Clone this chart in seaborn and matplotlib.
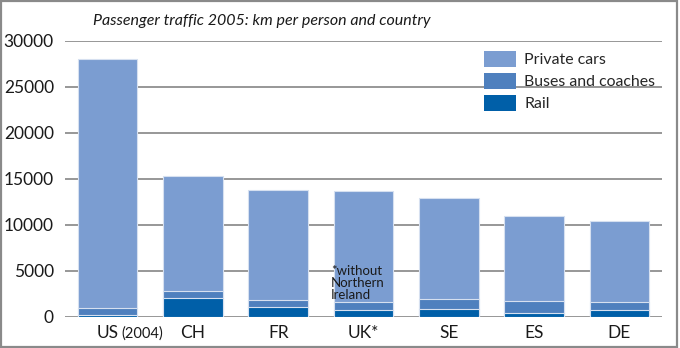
import matplotlib
matplotlib.use("Agg")
import matplotlib.pyplot as plt
import seaborn as sns
import pandas as pd
from matplotlib.patches import Patch, Rectangle

categories = ["US", "CH", "FR", "UK*", "SE", "ES", "DE"]
rail = [200, 2070, 1090, 730, 840, 440, 730]
buses = [700, 760, 725, 900, 1050, 1300, 900]
cars = [27100, 12470, 11985, 12020, 11060, 9210, 8770]
yticks = [0, 5000, 10000, 15000, 20000, 25000, 30000]

c_cars = "#7B9DD1"
c_bus = "#4F80BE"
c_rail = "#005FA8"
edge = "#D6E0F0"

df = pd.DataFrame({"country": categories, "rail": rail, "buses": buses, "cars": cars})
df["bus_top"] = df["rail"] + df["buses"]
df["total"] = df["bus_top"] + df["cars"]

sns.set_theme(style="white")
plt.rcParams["font.family"] = ["Lato", "DejaVu Sans"]

fig = plt.figure(figsize=(6.8, 3.48), dpi=100)
ax = fig.add_axes([65 / 680, 1 - 316.7 / 348, (662 - 65) / 680, (316.7 - 40.7) / 348])

for col, color in [("total", c_cars), ("bus_top", c_bus), ("rail", c_rail)]:
    sns.barplot(data=df, x="country", y=col, color=color, saturation=1, width=0.70,
                edgecolor=edge, linewidth=0.8, ax=ax, zorder=3)

ax.set_ylim(0, 30000)
ax.set_xlim(-0.5, len(categories) - 0.5)
ax.set_yticks(yticks)
ax.set_yticklabels([str(v) for v in yticks])
for v in yticks:
    ax.axhline(v, color="#7a7a7a", lw=1.1, zorder=1)
ax.set_xlabel("")
ax.set_ylabel("")
for s in ax.spines.values():
    s.set_visible(False)
ax.tick_params(axis="y", length=0, pad=8, labelsize=12.5, colors="#1a1a1a")
ax.tick_params(axis="x", length=0, pad=6, labelsize=12.5, colors="#1a1a1a")
ax.set_xticks(range(len(categories)))
ax.set_xticklabels(categories)

# "(2004)" suffix after US
ax.annotate("(2004)", xy=(0, 0), xycoords=("data", "axes fraction"), xytext=(10, -7),
            textcoords="offset points", ha="left", va="top", fontsize=10.5, color="#1a1a1a")

# UK note
ax.text(2.62, 5600, "*without\nNorthern\nIreland", ha="left", va="top", fontsize=9.5,
        color="#1a1a1a", linespacing=1.0, zorder=5)

handles = [Patch(facecolor=c_cars, edgecolor="none", label="Private cars"),
           Patch(facecolor=c_bus, edgecolor="none", label="Buses and coaches"),
           Patch(facecolor=c_rail, edgecolor="none", label="Rail")]
leg = ax.legend(handles=handles, loc="upper left", bbox_to_anchor=(0.692, 0.985), frameon=False,
                fontsize=11.4, handlelength=2.0, handleheight=1.15, handletextpad=0.5,
                labelspacing=0.36, borderaxespad=0)

fig.text(262 / 680, 1 - 21 / 348, "Passenger traffic 2005: km per person and country",
         ha="center", va="center", fontsize=11.5, style="italic", color="#1a1a1a")

fig.patches.append(Rectangle((0.002, 0.003), 0.994, 0.994, transform=fig.transFigure,
                             fill=False, edgecolor="#8a8a8a", lw=1.6))

fig.savefig("out.png", dpi=100)
